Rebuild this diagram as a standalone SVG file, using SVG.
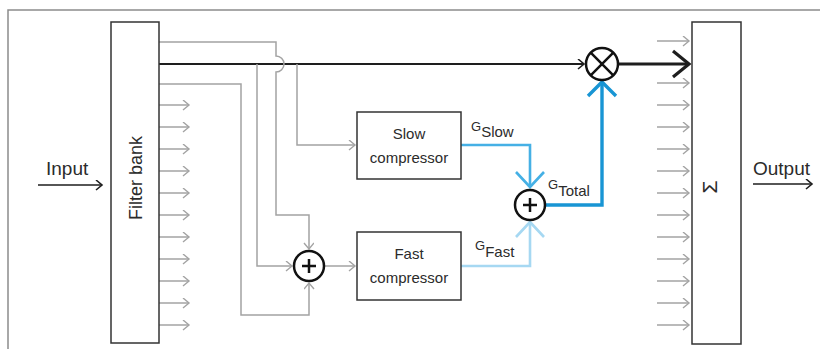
<svg xmlns="http://www.w3.org/2000/svg" width="820" height="349" viewBox="0 0 820 349">
<defs>
<style>
.frame{fill:none;stroke:#8c8c8c;stroke-width:1.5}
.box{fill:#fff;stroke:#333;stroke-width:1.5}
.g{fill:none;stroke:#a3a3a3;stroke-width:1.5}
.k{fill:none;stroke:#1e1e1e;stroke-width:2}
.kt{fill:none;stroke:#1e1e1e;stroke-width:3.2}
.op{fill:#fff;stroke:#111;stroke-width:2.5}
.bs{fill:none;stroke:#45b0e5;stroke-width:2.6}
.bf{fill:none;stroke:#a6d8f2;stroke-width:2.6}
.bt{fill:none;stroke:#1895d4;stroke-width:3.4}
text{font-family:"Liberation Sans",Arial,sans-serif;fill:#2b2b2b}
.lbl{font-size:15px;text-anchor:middle}
.io{font-size:19px}
.gs{font-size:13px}
</style>
<marker id="ag" markerWidth="10" markerHeight="12" refX="7" refY="5" orient="auto" markerUnits="userSpaceOnUse">
<path d="M1,0 L7,5 L1,10" fill="none" stroke="#a3a3a3" stroke-width="1.4"/>
</marker>
<marker id="ak" markerWidth="10" markerHeight="12" refX="7" refY="5" orient="auto" markerUnits="userSpaceOnUse">
<path d="M1,0 L7,5 L1,10" fill="none" stroke="#1e1e1e" stroke-width="1.6"/>
</marker>
</defs>
<rect width="820" height="349" fill="#fff"/>
<path class="frame" d="M8,349 V10 H820"/>

<g id="connectors">
<g id="fb-outputs" class="g" marker-end="url(#ag)">
<line x1="159" y1="105" x2="189" y2="105"/>
<line x1="159" y1="127" x2="189" y2="127"/>
<line x1="159" y1="149" x2="189" y2="149"/>
<line x1="159" y1="171" x2="189" y2="171"/>
<line x1="159" y1="193" x2="189" y2="193"/>
<line x1="159" y1="215" x2="189" y2="215"/>
<line x1="159" y1="237" x2="189" y2="237"/>
<line x1="159" y1="259" x2="189" y2="259"/>
<line x1="159" y1="281" x2="189" y2="281"/>
<line x1="159" y1="303" x2="189" y2="303"/>
<line x1="159" y1="325" x2="189" y2="325"/>
</g>
<g id="sum-inputs" class="g" marker-end="url(#ag)">
<line x1="657" y1="41" x2="689" y2="41"/>
<line x1="657" y1="83" x2="689" y2="83"/>
<line x1="657" y1="105" x2="689" y2="105"/>
<line x1="657" y1="127" x2="689" y2="127"/>
<line x1="657" y1="149" x2="689" y2="149"/>
<line x1="657" y1="171" x2="689" y2="171"/>
<line x1="657" y1="193" x2="689" y2="193"/>
<line x1="657" y1="215" x2="689" y2="215"/>
<line x1="657" y1="237" x2="689" y2="237"/>
<line x1="657" y1="259" x2="689" y2="259"/>
<line x1="657" y1="281" x2="689" y2="281"/>
<line x1="657" y1="303" x2="689" y2="303"/>
<line x1="657" y1="325" x2="689" y2="325"/>
</g>
<path class="k" d="M159,64 H584" marker-end="url(#ak)"/>
<path class="g" d="M159,42 H276 V56 A8,8 0 0 1 276,72 V215 H309 V249" marker-end="url(#ag)"/>
<path class="g" d="M297,64 V145 H355" marker-end="url(#ag)"/>
<path class="g" d="M257,64 V266 H292" marker-end="url(#ag)"/>
<path class="g" d="M159,84 H241 V315 H309 V283" marker-end="url(#ag)"/>
<path class="g" d="M324,266 H355" marker-end="url(#ag)"/>
<path class="bs" d="M461,145 H530 V187"/>
<path class="bs" d="M516,172 L530,187 L544,172"/>
<path class="bf" d="M461,266 H530 V222"/>
<path class="bf" d="M516,237 L530,222 L544,237"/>
<path class="bt" d="M545,205 H602 V82"/>
<path class="bt" d="M588,96 L602,82 L616,96"/>
<path class="kt" d="M618,64 H688"/>
<path class="kt" d="M673,51 L689,64 L673,77"/>
<path class="k" style="stroke-width:1.5" d="M38,185 H102" marker-end="url(#ak)"/>
<path class="k" style="stroke-width:1.5" d="M753,184 H812" marker-end="url(#ak)"/>
</g>

<g id="input-label"><text class="io" x="46" y="175">Input</text></g>
<g id="output-label"><text class="io" x="753" y="175">Output</text></g>

<g id="filter-bank">
<rect class="box" x="111" y="22" width="48" height="321"/>
<text class="lbl" style="font-size:18px" transform="translate(142,178) rotate(-90)">Filter bank</text>
</g>

<g id="sum-block">
<rect class="box" x="692" y="22" width="49" height="322"/>
<text class="lbl" style="font-size:21px" transform="translate(717,187) rotate(-90)">Σ</text>
</g>

<g id="slow-compressor">
<rect class="box" x="357" y="112" width="104" height="67"/>
<text class="lbl" x="409" y="139">Slow</text>
<text class="lbl" x="409" y="163">compressor</text>
</g>

<g id="fast-compressor">
<rect class="box" x="357" y="232" width="104" height="68"/>
<text class="lbl" x="409" y="259">Fast</text>
<text class="lbl" x="409" y="283">compressor</text>
</g>

<g id="adder-1">
<circle class="op" cx="309" cy="266" r="15"/>
<path class="op" d="M302,266 H316 M309,259 V273"/>
</g>

<g id="adder-2">
<circle class="op" cx="530" cy="205" r="15"/>
<path class="op" d="M523,205 H537 M530,198 V212"/>
</g>

<g id="multiplier">
<circle class="op" cx="602" cy="64" r="16"/>
<path class="op" d="M590.7,52.7 L613.3,75.3 M613.3,52.7 L590.7,75.3"/>
</g>

<g id="g-slow"><text class="gs" x="471" y="131">G<tspan dy="6" style="font-size:15px">Slow</tspan></text></g>
<g id="g-total"><text class="gs" x="548" y="189">G<tspan dy="7" style="font-size:15px">Total</tspan></text></g>
<g id="g-fast"><text class="gs" x="475" y="250">G<tspan dy="7" style="font-size:15px">Fast</tspan></text></g>
</svg>
